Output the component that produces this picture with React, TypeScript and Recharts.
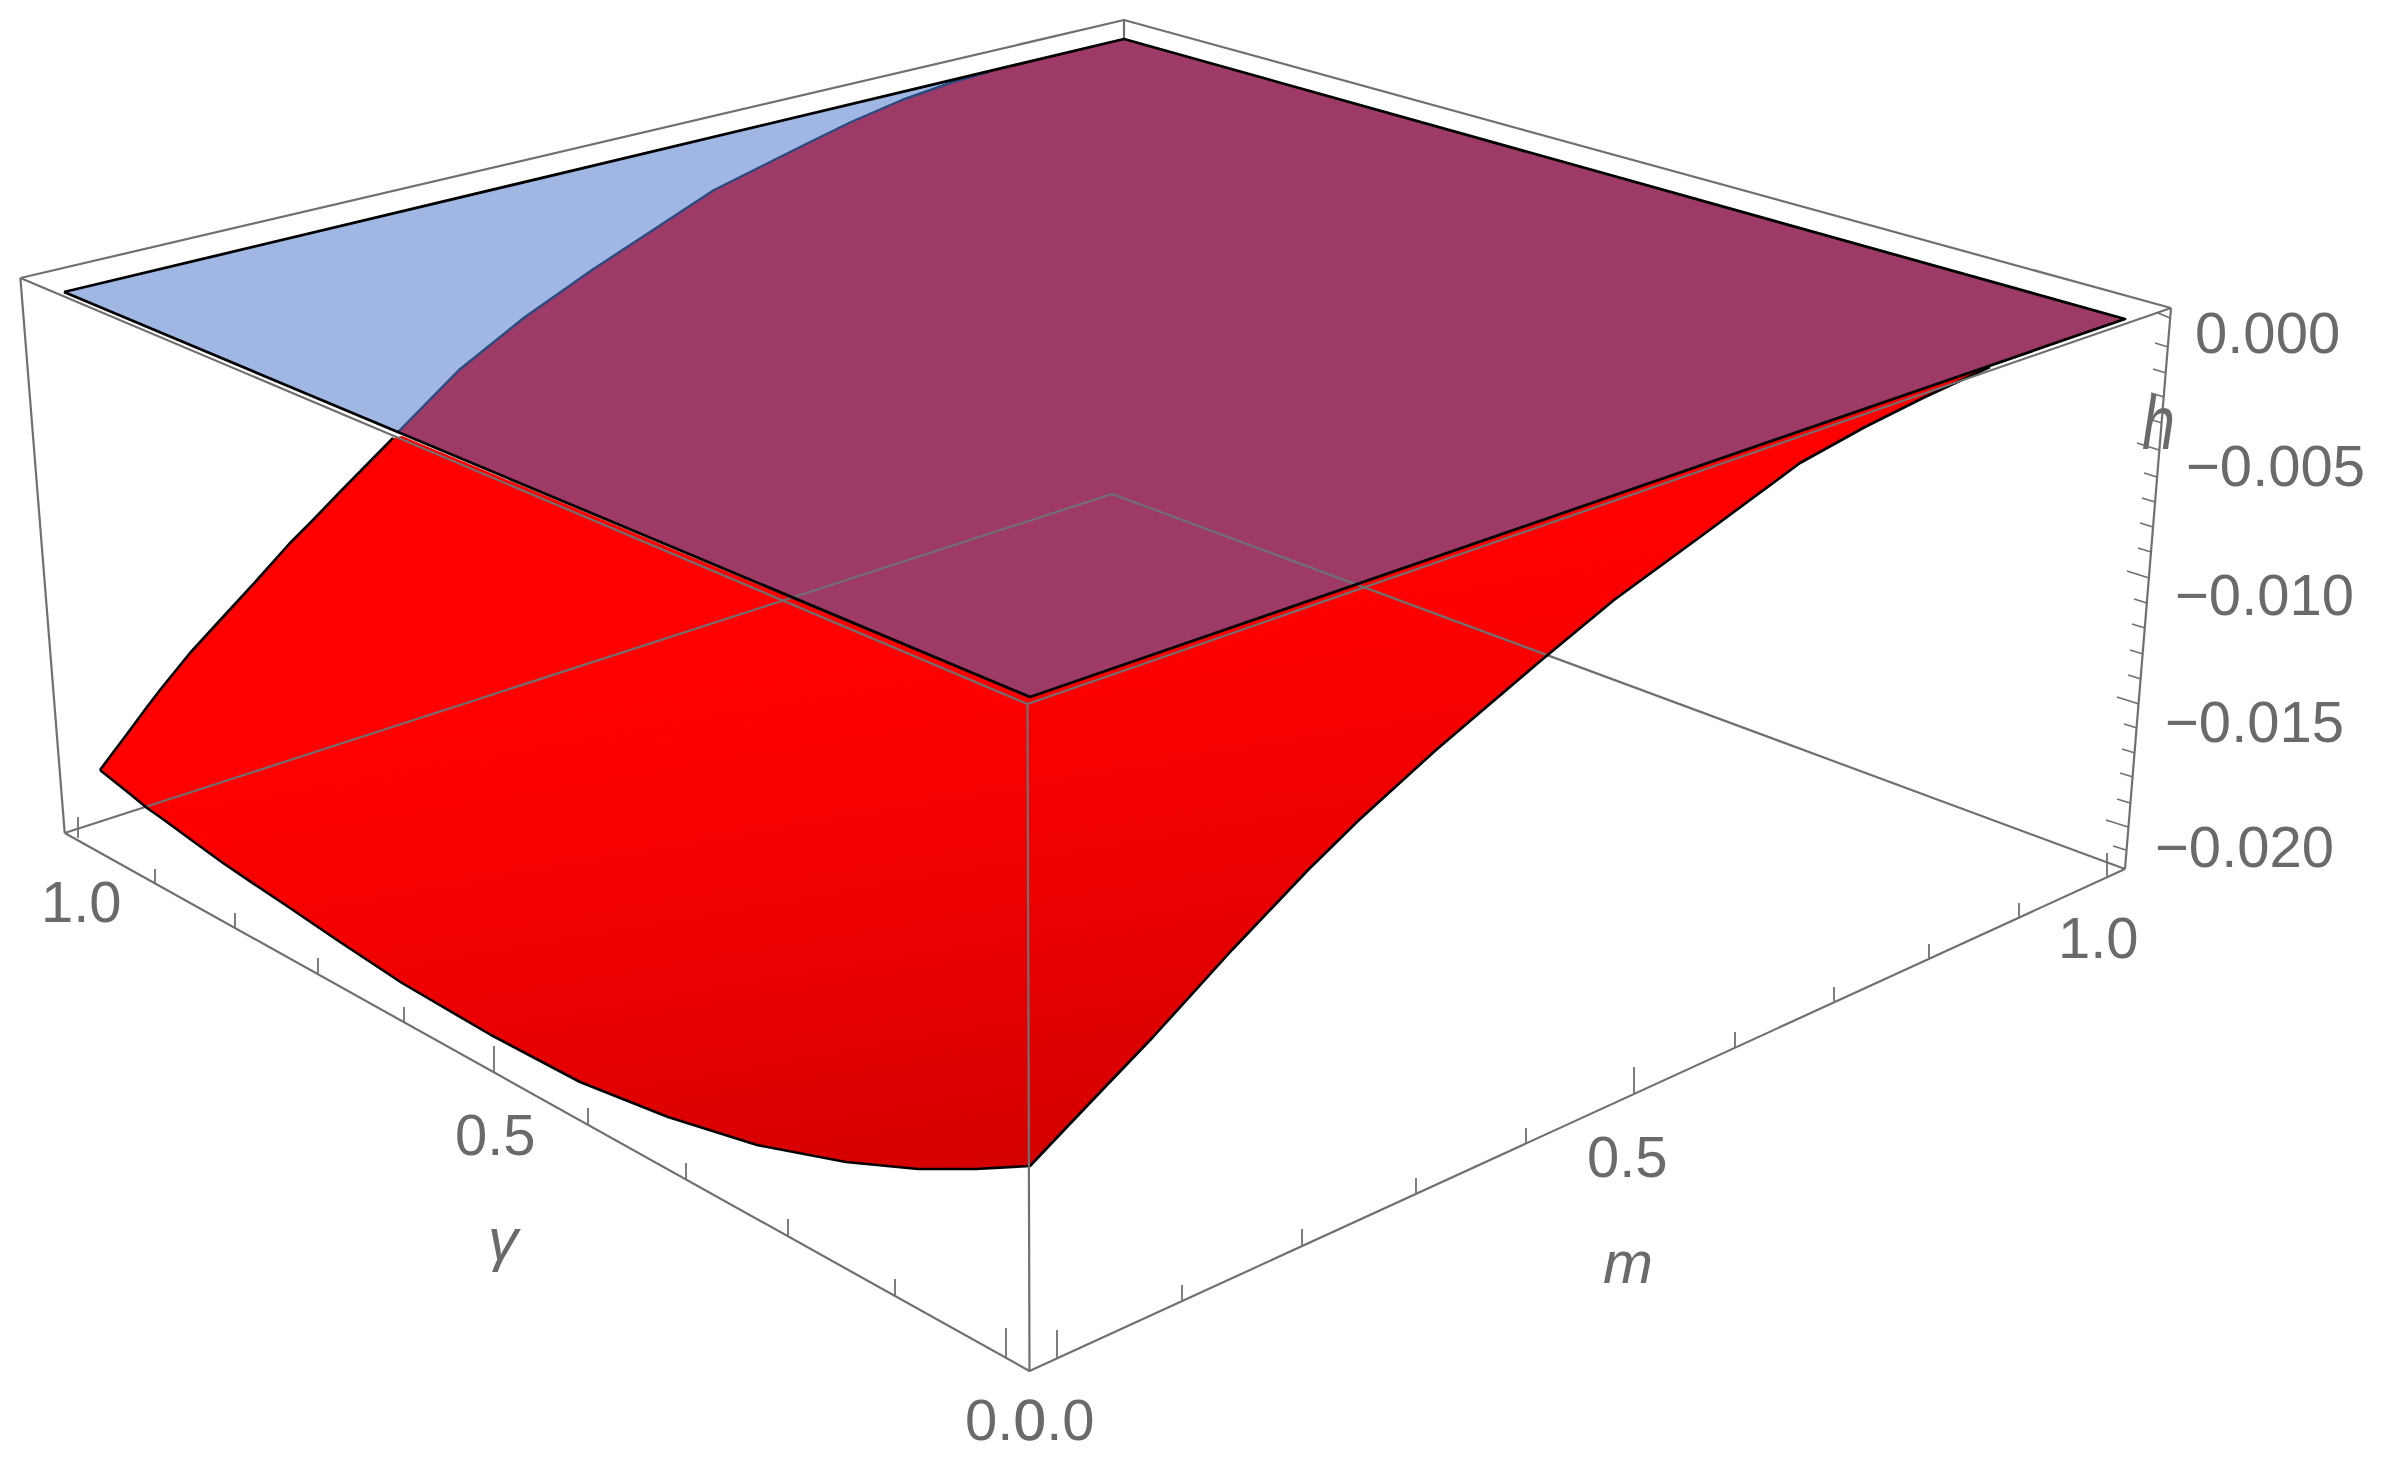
import { ComposedChart, XAxis, YAxis, Area, Line, Scatter } from 'recharts';

// The plot is a 3D box seen in perspective, so everything is read off in
// projected page units and goes through one flat x/y scale.
const WIDTH = 2383;
const HEIGHT = 1462;

const GRAY = '#707070';
const LABEL_GRAY = '#6a6a6a';

// blue sheet (mostly hidden under the purple one)
const blueX = [64, 398, 989];
const blueTop = [292, 212, 72];
const blueBottom = [292, 432, 680];

// purple sheet, h = 0 plane where both surfaces overlap
const purpleX = [398, 459, 525, 592, 653, 714, 800, 851, 902, 953, 989, 1030, 1124, 1400, 1800, 2125];
const purpleTop = [432, 370, 317, 270, 230, 190, 147, 122, 100, 82, 72, 61, 39, 116, 228, 319];
const purpleBottom = [432, 458, 485, 513, 539, 565, 601, 622, 643, 665, 680, 697, 665, 569, 431, 319];

// red surface, left rim + far edge on top, curved lower rim below
const redX = [
  100, 130, 147, 160, 190, 223, 257, 290, 312, 337, 393, 402, 491, 580, 668, 757, 846, 918, 976, 1030,
  1066, 1107, 1153, 1232, 1308, 1359, 1436, 1538, 1614, 1700, 1800, 1865, 1925, 1990,
];
const redTop = [
  770, 730, 707, 690, 653, 617, 580, 543, 521, 495, 438, 436, 473, 510, 547, 584, 621, 651, 675, 697,
  685, 670, 655, 627, 601, 583, 557, 522, 495, 466, 431, 409, 388, 366,
];
const redBottom = [
  770, 794, 808, 817, 839, 863, 886, 908, 923, 940, 977, 983, 1035, 1082, 1117, 1145, 1162, 1169, 1169, 1166,
  1128, 1085, 1037, 950, 870, 820, 750, 663, 600, 537, 463, 427, 397, 367,
];

// seam between blue and purple
const seamX = [398, 459, 525, 592, 653, 714, 800, 851, 902, 953, 989];
const seamY = [432, 370, 317, 270, 230, 190, 147, 122, 100, 82, 72];

// black outline of the flat sheet
const sheetEdgeX = [64, 1124, 2125, 1030, 64];
const sheetEdgeY = [292, 39, 319, 697, 292];

// box edges
const backEdgesX = [64.7, 1112, 2125];
const backEdgesY = [833, 494, 869];
const topEdgesX = [20.4, 1124, 2171];
const topEdgesY = [278, 20, 308];
const apexDropX = [1124, 1124];
const apexDropY = [20, 39];
const leftPostX = [20.4, 64.7];
const leftPostY = [278, 833];
const rightPostX = [2171, 2125];
const rightPostY = [308, 869];
const frontTopX = [20.4, 1027.5, 2171];
const frontTopY = [278, 704, 308];
const frontPostX = [1027.5, 1029.5];
const frontPostY = [704, 1371];
const frontBottomX = [64.7, 1029.5, 2125];
const frontBottomY = [833, 1371, 869];

// tick marks, foot on the axis and tip
const gammaTickFootX = [78, 155, 235, 318, 404, 494, 588, 686, 788, 895, 1006];
const gammaTickFootY = [838, 883, 927, 973, 1023, 1072, 1124, 1180, 1237, 1295, 1358];
const gammaTickTipY = [817, 869, 913, 958, 1007, 1046, 1108, 1163, 1219, 1279, 1328];

const mTickFootX = [1057, 1182, 1302, 1416, 1526, 1634, 1735, 1834, 1929, 2019, 2107];
const mTickFootY = [1358, 1300, 1245, 1193, 1143, 1093, 1047, 1001, 958, 917, 877];
const mTickTipY = [1330, 1285, 1229, 1178, 1128, 1067, 1032, 987, 944, 903, 853];

const hTickFootX = [2170, 2168, 2166, 2164, 2162, 2159, 2157, 2155, 2153, 2151, 2149, 2147, 2145, 2143, 2141, 2139, 2137, 2135, 2133, 2130, 2128, 2126];
const hTickFootY = [318, 347, 373, 397, 423, 450, 477, 502, 527, 552, 578, 603, 628, 654, 679, 704, 728, 753, 777, 803, 827, 850];
const hTickTipX = [2158, 2155, 2153, 2151, 2149, 2137, 2144, 2142, 2140, 2138, 2127, 2134, 2132, 2130, 2128, 2117, 2124, 2122, 2120, 2117, 2106, 2113];
const hTickTipY = [313, 343, 369, 393, 419, 443, 473, 498, 523, 548, 571, 599, 624, 650, 675, 697, 724, 749, 773, 799, 820, 846];

// tick labels
const tickLabels = ['0.000', '\u22120.005', '\u22120.010', '\u22120.015', '\u22120.020', '1.0', '0.5', '0.0', '0.0', '0.5', '1.0'];
const tickLabelX = [2195, 2186, 2175, 2165, 2155, 2058, 1587, 965, 1014, 455, 41];
const tickLabelY = [353, 486, 615, 742, 867, 958, 1177, 1440, 1440, 1155, 922];

// axis names
const axisNames = ['\u03b3', 'm'];
const axisNameX = [488, 1603];
const axisNameY = [1260, 1283];
const hNameX = [2142];
const hNameY = [449];

const points = (xs: number[], ys: number[]) => xs.map((x, i) => ({ x, y: ys[i] }));
const band = (xs: number[], tops: number[], bottoms: number[]) =>
  xs.map((x, i) => ({ x, range: [tops[i], bottoms[i]] }));

const edge = (name: string, data: { x: number; y: number }[], color = GRAY, width = 2.2) => (
  <Line
    key={name}
    data={data}
    dataKey="y"
    type="linear"
    stroke={color}
    strokeWidth={width}
    strokeLinejoin="round"
    dot={false}
    activeDot={false}
    legendType="none"
    isAnimationActive={false}
  />
);

const sheet = (name: string, data: { x: number; range: number[] }[], fill: string) => (
  <Area
    key={name}
    data={data}
    dataKey="range"
    type="linear"
    stroke="none"
    fill={fill}
    fillOpacity={1}
    dot={false}
    activeDot={false}
    legendType="none"
    isAnimationActive={false}
  />
);

function tickShape(props: any) {
  const { cx, cy, payload } = props;
  return (
    <text x={cx} y={cy} fontFamily="Liberation Sans" fontSize={58} fill={LABEL_GRAY}>
      {payload.text}
    </text>
  );
}

function nameShape(props: any) {
  const { cx, cy, payload } = props;
  return (
    <text x={cx} y={cy} fontFamily="Liberation Sans" fontStyle="italic" fontSize={60} fill={LABEL_GRAY}>
      {payload.text}
    </text>
  );
}

function hShape(props: any) {
  const { cx, cy } = props;
  return (
    <text
      x={cx}
      y={cy}
      fontFamily="Liberation Sans"
      fontStyle="italic"
      fontSize={76}
      textLength={33}
      lengthAdjust="spacingAndGlyphs"
      fill={LABEL_GRAY}
    >
      h
    </text>
  );
}

const tickLabelData = tickLabels.map((text, i) => ({ x: tickLabelX[i], y: tickLabelY[i], text }));
const axisNameData = axisNames.map((text, i) => ({ x: axisNameX[i], y: axisNameY[i], text }));

export default function App() {
  return (
    <div style={{ position: 'absolute', left: 0, top: 0, width: WIDTH, height: HEIGHT, background: '#fff' }}>
      <ComposedChart width={WIDTH} height={HEIGHT} margin={{ top: 0, right: 0, bottom: 0, left: 0 }}>
        <defs>
          <linearGradient id="redShade" gradientUnits="userSpaceOnUse" x1={800} y1={650} x2={895} y2={1202}>
            <stop offset="0" stopColor="#ff0000" />
            <stop offset="0.35" stopColor="#f40000" />
            <stop offset="0.9" stopColor="#d80000" />
            <stop offset="1" stopColor="#d20000" />
          </linearGradient>
        </defs>
        <XAxis hide type="number" dataKey="x" domain={[0, WIDTH]} />
        <YAxis hide type="number" dataKey="y" domain={[0, HEIGHT]} reversed />

        {edge('back', points(backEdgesX, backEdgesY))}
        {edge('top', points(topEdgesX, topEdgesY))}
        {edge('apex', points(apexDropX, apexDropY))}
        {edge('leftPost', points(leftPostX, leftPostY))}
        {edge('rightPost', points(rightPostX, rightPostY))}

        {sheet('blue', band(blueX, blueTop, blueBottom), '#a0b7e3')}
        {sheet('red', band(redX, redTop, redBottom), 'url(#redShade)')}
        {sheet('purple', band(purpleX, purpleTop, purpleBottom), '#9e3a66')}

        {edge('seam', points(seamX, seamY), '#2b4a80', 2.4)}
        {edge('redLeft', points(redX.slice(0, 11), redTop.slice(0, 11)), '#000', 2.6)}
        {edge('redLow', points(redX, redBottom), '#000', 2.6)}
        {edge('sheetEdge', points(sheetEdgeX, sheetEdgeY), '#000', 2.8)}

        {edge('frontTop', points(frontTopX, frontTopY))}
        {edge('frontPost', points(frontPostX, frontPostY))}
        {edge('frontBottom', points(frontBottomX, frontBottomY))}

        {gammaTickFootX.map((x, i) =>
          edge(`g${i}`, points([x, x], [gammaTickFootY[i], gammaTickTipY[i]]), GRAY, 1.8),
        )}
        {mTickFootX.map((x, i) => edge(`m${i}`, points([x, x], [mTickFootY[i], mTickTipY[i]]), GRAY, 1.8))}
        {hTickFootX.map((x, i) =>
          edge(`h${i}`, points([x, hTickTipX[i]], [hTickFootY[i], hTickTipY[i]]), GRAY, 1.8),
        )}

        <Scatter data={tickLabelData} shape={tickShape} legendType="none" isAnimationActive={false} />
        <Scatter data={axisNameData} shape={nameShape} legendType="none" isAnimationActive={false} />
        <Scatter data={points(hNameX, hNameY)} shape={hShape} legendType="none" isAnimationActive={false} />
      </ComposedChart>
    </div>
  );
}
